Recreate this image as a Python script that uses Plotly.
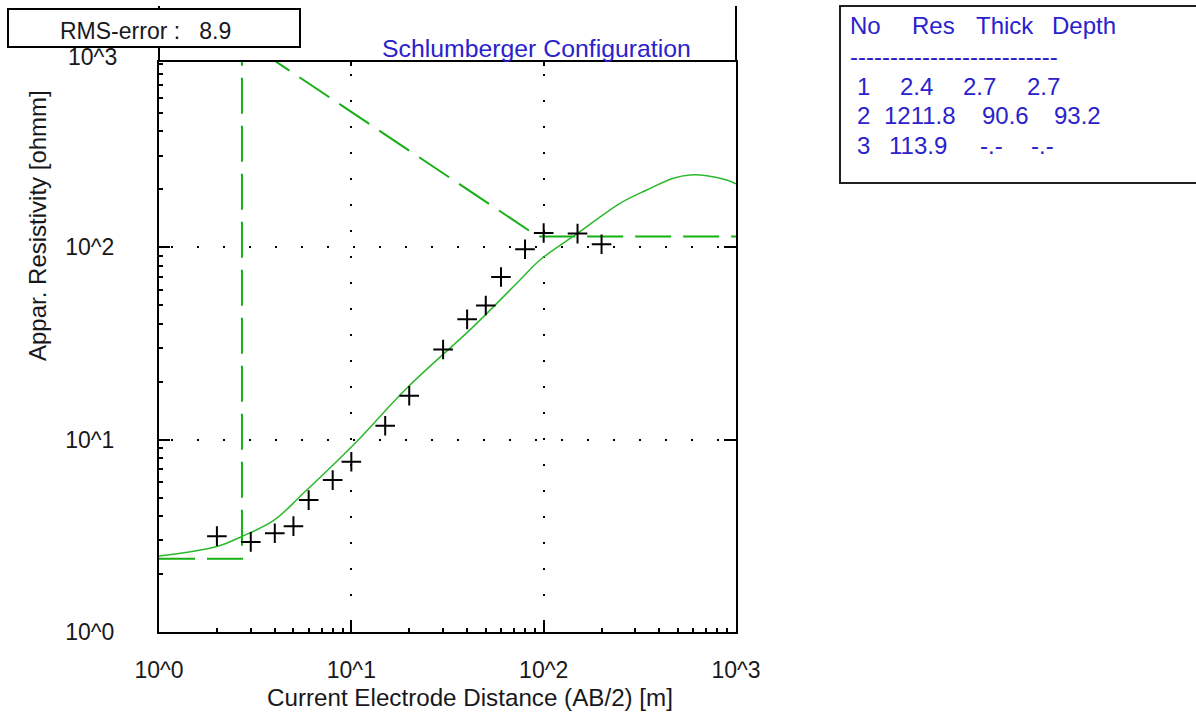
import plotly.graph_objects as go

# ---------------- data ----------------
ab2 = [2, 3, 4, 5, 6, 8, 10, 15, 20, 30, 40, 50, 60, 80, 100, 150, 200]
rho_meas = [3.15, 2.94, 3.26, 3.55, 4.85, 6.16, 7.67, 11.8, 16.9, 29.4, 42.2, 49.8,
            70.1, 97.7, 118.7, 117.8, 103.7]

fit_x = [1.0, 2.0, 2.64, 3.93, 5.63, 10.45, 19.4, 43.1, 75.3, 95.7, 148.5, 249.5,
         343.5, 472, 577, 704, 895, 1000]
fit_y = [2.48, 2.78, 3.11, 3.79, 5.26, 9.57, 18.5, 38.7, 67.6, 85.9, 117.3, 169.3,
         198.6, 228.6, 237.6, 235.6, 223.8, 214]

layer_no = ["1", "2", "3"]
layer_res = ["2.4", "1211.8", "113.9"]
layer_thick = ["2.7", "90.6", "-.-"]
layer_depth = ["2.7", "93.2", "-.-"]
res_vals = [2.4, 1211.8, 113.9]
depth_vals = [2.7, 93.2]
rms_error = "8.9"

x_tick_vals = [1, 10, 100, 1000]
x_tick_text = ["10^0", "10^1", "10^2", "10^3"]
y_tick_vals = [1, 10, 100]
y_tick_text = ["10^0", "10^1", "10^2"]
minor_vals = [m * d for d in (1, 10, 100) for m in range(2, 10)]

x_min, x_max = 1, 1000
model_x = [x_min, depth_vals[0], depth_vals[0], depth_vals[1], x_max]
model_y = [res_vals[0], res_vals[0], res_vals[1], res_vals[2], res_vals[2]]

# ---------------- layout helpers ----------------
W, H = 1196, 713
L, R, T, B = 159, 736, 62, 632
def px(x):
    return (x - L) / (R - L)
def py(y):
    return (B - y) / (B - T)

FONT = "Liberation Sans, Arial, sans-serif"
TXT = "#18181c"
BLUE = "#2a22cc"
GREEN_M = "#14b014"
GREEN_F = "#2cb82c"
y_top = (B - T) / ((B - 247.3) / 2)

fig = go.Figure()
fig.add_trace(go.Scatter(x=model_x, y=model_y, mode="lines",
                         line=dict(color=GREEN_M, width=2, dash="36px,12px"),
                         hoverinfo="skip", showlegend=False))
fig.add_trace(go.Scatter(x=fit_x, y=fit_y, mode="lines", line_shape="spline",
                         line=dict(color=GREEN_F, width=1.5, smoothing=1.0),
                         hoverinfo="skip", showlegend=False))
fig.add_trace(go.Scatter(x=ab2, y=rho_meas, mode="markers",
                         marker=dict(symbol="cross-thin", size=14,
                                     line=dict(color="black", width=2)),
                         showlegend=False))
fig.add_trace(go.Scatter(x=ab2, y=rho_meas, mode="markers", xaxis="x2", yaxis="y2",
                         marker=dict(opacity=0), hoverinfo="skip", showlegend=False))

axis_common = dict(type="log", showline=True, linecolor="black", linewidth=2,
                   mirror=True, ticks="inside", tickcolor="black", tickwidth=2,
                   ticklen=11, zeroline=False, showgrid=True, gridcolor="black",
                   gridwidth=1.5, griddash="0px,12px,2px,12px",
                   tickfont=dict(family=FONT, size=23, color=TXT),
                   minor=dict(ticks="inside", ticklen=4, tickwidth=1.5,
                              tickcolor="black", tickvals=minor_vals, showgrid=False))

fig.update_layout(
    width=W, height=H, autosize=False,
    margin=dict(l=L, r=W - R, t=T, b=H - B, pad=0),
    paper_bgcolor="white", plot_bgcolor="white",
    xaxis=dict(axis_common, range=[0, 3], tickvals=x_tick_vals, ticktext=x_tick_text,
               ticklabelstandoff=16),
    yaxis=dict(axis_common, range=[0, y_top], tickvals=y_tick_vals, ticktext=y_tick_text,
               ticklabelstandoff=38),
    xaxis2=dict(type="log", range=[0, 3], overlaying="x", side="top", showline=False,
                ticks="inside", tickvals=[10, 100], ticklen=4, tickwidth=2,
                tickcolor="black", showticklabels=False, showgrid=False, zeroline=False),
    yaxis2=dict(type="log", range=[0, y_top], overlaying="y", side="right", showline=False,
                ticks="inside", tickvals=[10, 100], ticklen=12, tickwidth=2,
                tickcolor="black", showticklabels=False, showgrid=False, zeroline=False),
    showlegend=False,
)

shapes = [
    dict(type="line", xref="paper", yref="paper", x0=0, x1=0, y0=1, y1=py(6),
         line=dict(color="black", width=2)),
    dict(type="line", xref="paper", yref="paper", x0=1, x1=1, y0=1, y1=py(6),
         line=dict(color="black", width=2)),
    dict(type="rect", xref="paper", yref="paper", x0=px(8), x1=px(300), y0=py(47),
         y1=py(9), fillcolor="white", line=dict(color="black", width=2)),
    dict(type="rect", xref="paper", yref="paper", x0=px(840), x1=px(1205), y0=py(183),
         y1=py(6), fillcolor="white", line=dict(color="#202020", width=2)),
]
fig.update_layout(shapes=shapes)

ann = []
def text(t, x, y, size, color=TXT, xanchor="left", angle=0):
    ann.append(dict(text=t, xref="paper", yref="paper", x=px(x), y=py(y),
                    xanchor=xanchor, yanchor="middle", showarrow=False, textangle=angle,
                    font=dict(family=FONT, size=size, color=color)))

text("RMS-error :   " + rms_error, 58, 31, 23)
text("Schlumberger Configuration", 380, 49, 24.8, BLUE)
text("Current Electrode Distance (AB/2) [m]", 265, 697, 24.2)
text("Appar. Resistivity [ohmm]", 37, 226, 24, xanchor="center", angle=-90)
text("10^3", 119, 57, 23, xanchor="right")

# table
header = ["No", "Res", "Thick", "Depth"]
header_x = [848, 910, 974, 1050]
for h, hx in zip(header, header_x):
    text(h, hx, 25, 24, BLUE)
text("-" * 26, 848, 57, 24, BLUE)
row_y = [86, 116, 145]
col_x = [[855, 898, 961, 1025], [855, 882, 980, 1052], [855, 887, 978, 1029]]
for i in range(3):
    cells = [layer_no[i], layer_res[i], layer_thick[i], layer_depth[i]]
    for c, cx in zip(cells, col_x[i]):
        text(c, cx, row_y[i], 24, BLUE)

fig.update_layout(annotations=ann)
fig.write_html("out.html")
